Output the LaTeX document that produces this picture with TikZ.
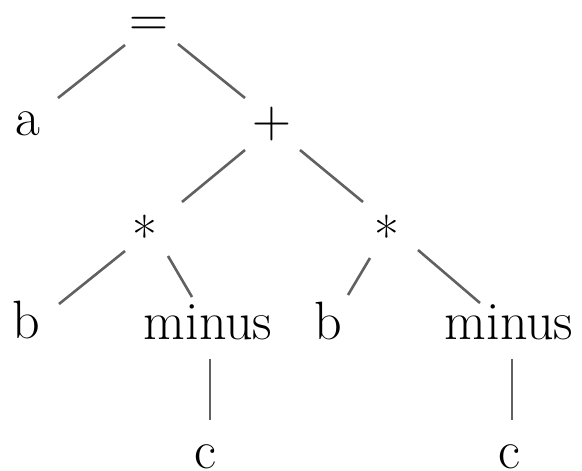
\documentclass[tikz,border=0pt]{standalone}
\begin{document}
\begin{tikzpicture}[x=1pt,y=-1pt,
  lbl/.style={inner sep=0pt,anchor=base,font=\fontsize{54}{60}\selectfont,text=black},
  edge/.style={line width=2.6pt,draw=black!62}]
\path[use as bounding box] (0,0) rectangle (582,471);
\node[lbl] (eq) at (149,36.5) {=};
\node[lbl] (a) at (28,135) {a};
\node[lbl] (plus) at (272,137.5) {+};
\node[lbl] (s1) at (145,255) {*};
\node[lbl] (s2) at (387,255) {*};
\node[lbl] (b1) at (26,338) {b};
\node[lbl] (m1) at (208,339) {minus};
\node[lbl] (b2) at (328,339) {b};
\node[lbl] (m2) at (509,339) {minus};
\node[lbl] (c1) at (205,468) {c};
\node[lbl] (c2) at (509,468) {c};
\draw[edge] ([shift={(-24,8.5)}]eq.base) -- ([shift={(30,-37)}]a.base);
\draw[edge] ([shift={(29,7.5)}]eq.base) -- ([shift={(-27,-39.5)}]plus.base);
\draw[edge] ([shift={(-27,12.5)}]plus.base) -- ([shift={(37,-53)}]s1.base);
\draw[edge] ([shift={(28,12.5)}]plus.base) -- ([shift={(-24,-53)}]s2.base);
\draw[edge] ([shift={(-20,-4)}]s1.base) -- ([shift={(33,-34)}]b1.base);
\draw[edge] ([shift={(23,1)}]s1.base) -- ([shift={(-16,-42)}]m1.base);
\draw[edge] ([shift={(-17,3)}]s2.base) -- ([shift={(20,-44)}]b2.base);
\draw[edge] ([shift={(31,-5)}]s2.base) -- ([shift={(-29,-36)}]m2.base);
\draw[edge] ([shift={(2,20)}]m1.base) -- ([shift={(5,-48)}]c1.base);
\draw[edge] ([shift={(3,20)}]m2.base) -- ([shift={(3,-48)}]c2.base);
\end{tikzpicture}
\end{document}
